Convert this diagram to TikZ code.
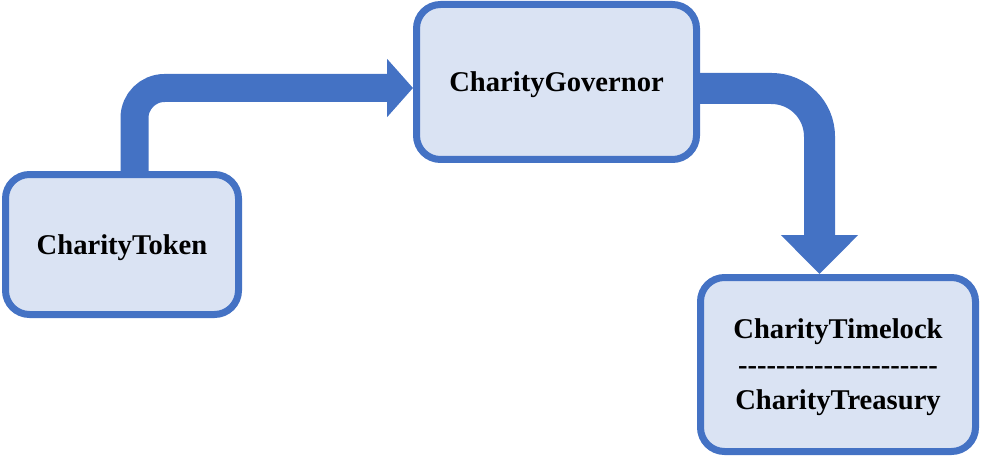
\documentclass[tikz,border=0pt]{standalone}
\usepackage{fontspec}
\setmainfont{Liberation Serif}
\usetikzlibrary{arrows.meta,positioning,calc}
\definecolor{boxblue}{HTML}{4472C4}
\definecolor{boxfill}{HTML}{DAE3F3}
\newcommand{\dashrow}{\foreach \i in {1,...,21}{-\kern0pt}}

\begin{document}
\begin{tikzpicture}[x=1pt, y=-1pt, contract/.style={draw=boxblue, fill=boxfill, line width=7pt, rounded corners=24pt, align=center, font=\fontsize{28.6}{35.5}\selectfont\bfseries, inner sep=0pt, text depth=0pt}, flow/.style={draw=boxblue, line width=28pt, rounded corners=30pt}]
\useasboundingbox (0,0) rectangle (981,457);
\node[contract, minimum width=233pt, minimum height=140pt] (token) at (122,244.5) {CharityToken};
\node[contract, minimum width=280pt, minimum height=155pt] (gov) at (556.5,82) {CharityGovernor};
\node[contract, minimum width=275pt, minimum height=174pt] (tl) at (838,364.5) {CharityTimelock\\ \dashrow\\ CharityTreasury};
\draw[flow, -{Triangle[length=26pt, width=57pt]}] ($(token.north)+(12.5,0)$) |- ($(gov.west)+(0,6)$);
\draw[flow, line width=31pt, rounded corners=48pt, -{Triangle[length=39pt, width=75pt]}] ($(gov.east)+(0,6.5)$) -| ($(tl.north)+(-18.5,0)$);
\end{tikzpicture}
\end{document}
